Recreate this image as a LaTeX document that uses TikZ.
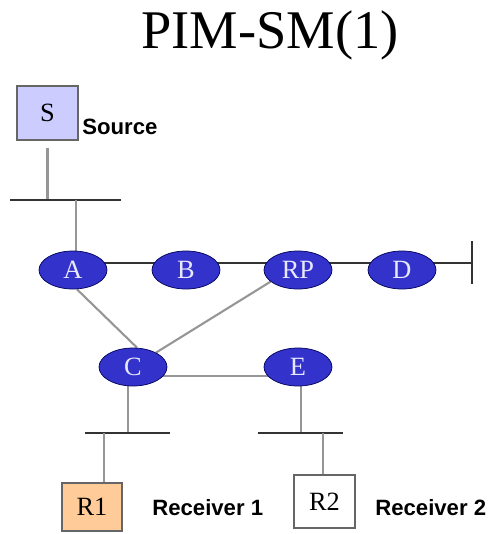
\documentclass[tikz,border=0pt]{standalone}
\usepackage{fontspec}
\setmainfont{Liberation Serif}
\setsansfont{Liberation Sans}
\usetikzlibrary{shapes.geometric, backgrounds}

\definecolor{routerblue}{RGB}{51,51,204}
\definecolor{routertext}{RGB}{232,232,255}
\definecolor{srcfill}{RGB}{204,204,255}
\definecolor{rcvfill}{RGB}{255,204,153}
\definecolor{linkgray}{RGB}{150,150,150}

\tikzset{
  router/.style={ellipse, draw=blue!35!black, fill=routerblue, text=routertext,
    minimum width=1.36cm, minimum height=0.76cm, inner sep=0pt,
    font=\fontsize{15}{15}\selectfont},
  host/.style={draw=black!60, line width=0.8pt, inner sep=0pt,
    font=\fontsize{15}{15}\selectfont},
  lbl/.style={anchor=west, inner sep=0pt, font=\sffamily\bfseries\fontsize{12.6}{12.6}\selectfont},
  bus/.style={draw=black!80, line width=1.7pt},
  link/.style={draw=linkgray, line width=1.2pt}
}

\begin{document}
\begin{tikzpicture}[x=0.02cm, y=-0.02cm]
\useasboundingbox (0,0) rectangle (494,534);

% title
\node[anchor=base, font=\fontsize{31}{31}\selectfont] (title) at (270,49) {PIM-SM(1)};

% source
\node[host, fill=srcfill, minimum width=1.22cm, minimum height=1.08cm] (S) at (47.5,113) {S};
\node[lbl] (src) at (82,127) {Source};

% routers
\node[router] (A) at (73,270) {A};
\node[router] (B) at (186,270) {B};
\node[router] (RP) at (298,270) {RP};
\node[router] (D) at (402,270) {D};
\node[router] (C) at (133,367) {C};
\node[router] (E) at (298,367) {E};

% receivers
\node[host, fill=rcvfill, minimum width=1.2cm, minimum height=0.96cm] (R1) at (92,507) {R1};
\node[lbl] (rcv1) at (152,508) {Receiver 1};
\node[host, fill=white, minimum width=1.22cm, minimum height=1.06cm] (R2) at (324.5,501.5) {R2};
\node[lbl] (rcv2) at (375,508) {Receiver 2};

% bus ends
\coordinate (s0) at (10,200);
\coordinate (s1) at (121,200);
\coordinate (sa) at (76,200);
\coordinate (dend) at (472,263);
\coordinate (c0) at (85,433);
\coordinate (c1) at (170,433);
\coordinate (e0) at (258,433);
\coordinate (e1) at (343,433);

\begin{scope}[on background layer]
% source segment
\draw[link] ([yshift=-0.14cm]S.south) -- (S.south |- s0);
\draw[bus] (s0) -- (s1);
\draw[link] (sa) -- (sa |- A.center);

% backbone
\draw[bus, line width=1.2pt] (A.center |- dend) -- (dend);
\draw[bus] ([yshift=0.44cm]dend) -- ([yshift=-0.42cm]dend);

% links to C and E
\draw[link] ([xshift=0.08cm]A.south) -- ([xshift=0.08cm]C.north);
\draw[link] (RP.203) -- (C.32);
\draw[link] ([yshift=-0.18cm]C.center) -- ([yshift=-0.18cm]E.center);

% receiver segments
\draw[link] ([xshift=-0.1cm]C.center) -- ([xshift=-0.1cm]C.center |- c0);
\draw[bus] (c0) -- (c1);
\draw[link] ([xshift=0.24cm]R1.north) -- ([xshift=0.24cm]R1.north |- c0);
\draw[link] ([xshift=0.06cm]E.center) -- ([xshift=0.06cm]E.center |- e0);
\draw[bus] (e0) -- (e1);
\draw[link] ([xshift=-0.03cm]R2.north) -- ([xshift=-0.03cm]R2.north |- e0);
\end{scope}

\end{tikzpicture}
\end{document}
